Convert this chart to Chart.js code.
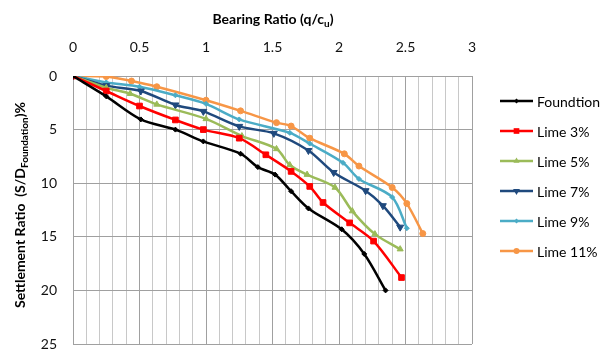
<!DOCTYPE html>
<html>
<head>
<meta charset="utf-8">
<script src="https://cdn.jsdelivr.net/npm/chart.js@4.4.1/dist/chart.umd.min.js"></script>
<style>
  body { margin: 0; background: #fff; }
  canvas { display: block; }
</style>
</head>
<body>
<canvas id="settle-chart" width="605" height="349"></canvas>
<script>
// values
const seriesNames = ['Foundtion', 'Lime 3%', 'Lime 5%', 'Lime 7%', 'Lime 9%', 'Lime 11%'];

const foundX = [0, 0.25, 0.51, 0.77, 0.98, 1.26, 1.39, 1.52, 1.64, 1.77, 2.02, 2.19, 2.35];
const foundY = [0, 1.9, 4.05, 5.0, 6.1, 7.25, 8.5, 9.2, 10.75, 12.35, 14.3, 16.6, 20.0];

const lime3X = [0, 0.25, 0.5, 0.77, 0.98, 1.25, 1.45, 1.64, 1.78, 1.88, 2.08, 2.26, 2.47];
const lime3Y = [0, 1.4, 2.8, 4.1, 5.0, 5.8, 7.35, 8.9, 10.3, 11.8, 13.7, 15.4, 18.8];

const lime5X = [0, 0.25, 0.43, 0.63, 1.0, 1.27, 1.53, 1.63, 1.76, 1.97, 2.1, 2.27, 2.46];
const lime5Y = [0, 1.1, 1.65, 2.65, 4.0, 5.6, 6.8, 8.3, 9.2, 10.4, 12.6, 14.75, 16.15];

const lime7X = [0, 0.25, 0.51, 0.77, 0.98, 1.25, 1.51, 1.77, 1.96, 2.2, 2.33, 2.46];
const lime7Y = [0, 0.9, 1.4, 2.7, 3.3, 4.7, 5.35, 6.95, 9.0, 10.7, 12.1, 14.1];

const lime9X = [0, 0.25, 0.5, 0.77, 1.0, 1.25, 1.63, 1.78, 2.03, 2.15, 2.4, 2.51];
const lime9Y = [0, 0.6, 1.0, 1.8, 2.6, 4.05, 5.3, 6.3, 8.1, 9.6, 11.3, 14.2];

const lime11X = [0, 0.25, 0.44, 0.63, 1.0, 1.26, 1.53, 1.64, 1.78, 2.04, 2.15, 2.4, 2.51, 2.63];
const lime11Y = [0, 0.05, 0.47, 1.0, 2.26, 3.25, 4.35, 4.67, 5.8, 7.26, 8.4, 10.4, 11.9, 14.7];

const xTicks = [0, 0.5, 1, 1.5, 2, 2.5, 3];
const yTicks = [0, 5, 10, 15, 20, 25];

const FONT = 'Lato, "Open Sans", sans-serif';

function pts(xs, ys) {
    return xs.map((x, i) => ({ x: x, y: ys[i] }));
}

const styles = [
    { color: '#000000', point: 'rectRot', r: 2.5, rot: 0 },
    { color: '#ff0000', point: 'rect', r: 4, rot: 0 },
    { color: '#9bbb59', point: 'triangle', r: 3.5, rot: 0 },
    { color: '#1f497d', point: 'triangle', r: 4, rot: 180 },
    { color: '#4bacc6', point: 'rectRot', r: 2.5, rot: 0 },
    { color: '#f79646', point: 'circle', r: 3, rot: 0 },
];

const seriesData = [
    pts(foundX, foundY), pts(lime3X, lime3Y), pts(lime5X, lime5Y),
    pts(lime7X, lime7Y), pts(lime9X, lime9Y), pts(lime11X, lime11Y)
];

function isMajor(v) {
    return xTicks.some(t => Math.abs(t - v) < 1e-6);
}

// axis titles (with subscripts) and the line+marker legend
const decorations = {
    id: 'decorations',
    afterDraw(chart) {
        const ctx = chart.ctx;
        ctx.save();
        ctx.fillStyle = '#000';
        ctx.textBaseline = 'alphabetic';

        // x title
        const big = 'bold 14px ' + FONT, small = 'bold 10px ' + FONT;
        ctx.font = big;
        const a = 'Bearing Ratio (q/c', c = ')';
        const wa = ctx.measureText(a).width, wc = ctx.measureText(c).width;
        ctx.font = small;
        const wb = ctx.measureText('u').width;
        let x = 273 - (wa + wb + wc) / 2;
        ctx.font = big; ctx.fillText(a, x, 24); x += wa;
        ctx.font = small; ctx.fillText('u', x, 27); x += wb;
        ctx.font = big; ctx.fillText(c, x, 24);

        // y title
        ctx.translate(25, 205);
        ctx.rotate(-Math.PI / 2);
        const ya = 'Settlement Ratio  (S/D', yb = 'Foundation', yc = ')%';
        ctx.font = big;
        const ywa = ctx.measureText(ya).width, ywc = ctx.measureText(yc).width;
        ctx.font = small;
        const ywb = ctx.measureText(yb).width;
        let p = -(ywa + ywb + ywc) / 2;
        ctx.font = big; ctx.fillText(ya, p, 0); p += ywa;
        ctx.font = small; ctx.fillText(yb, p, 3); p += ywb;
        ctx.font = big; ctx.fillText(yc, p, 0);
        ctx.restore();

        // legend
        ctx.save();
        ctx.font = '14px ' + FONT;
        ctx.textBaseline = 'middle';
        seriesNames.forEach((name, i) => {
            const y = 101 + i * 30;
            const s = styles[i];
            ctx.strokeStyle = s.color;
            ctx.lineWidth = 2.5;
            ctx.beginPath();
            ctx.moveTo(500, y);
            ctx.lineTo(533, y);
            ctx.stroke();
            ctx.fillStyle = s.color;
            ctx.lineWidth = 1;
            Chart.helpers.drawPoint(ctx, { pointStyle: s.point, radius: s.r, rotation: s.rot }, 516.5, y);
            ctx.fillStyle = '#000';
            ctx.fillText(name, 537, y + 1);
        });
        ctx.restore();
    }
};

const ctx = document.getElementById('settle-chart').getContext('2d');
new Chart(ctx, {
    type: 'line',
    data: {
        datasets: seriesNames.map((name, i) => ({
            label: name,
            data: seriesData[i],
            borderColor: styles[i].color,
            backgroundColor: styles[i].color,
            pointStyle: styles[i].point,
            pointRadius: styles[i].r,
            pointRotation: styles[i].rot,
            pointBorderWidth: 1,
            borderWidth: 2.5,
            tension: 0.3,
            fill: false,
        }))
    },
    options: {
        responsive: false,
        animation: false,
        layout: { padding: { top: 0, left: 0, right: 133, bottom: 3 } },
        plugins: {
            legend: { display: false },
            tooltip: { enabled: false },
        },
        scales: {
            x: {
                type: 'linear',
                position: 'top',
                min: 0,
                max: 3,
                afterFit(s) { s.height = 76; },
                grid: {
                    drawTicks: false,
                    color: c => isMajor(c.tick.value) ? '#a0a0a0' : '#c8c8c8',
                },
                border: { color: '#a0a0a0' },
                ticks: {
                    stepSize: 0.1,
                    maxTicksLimit: 40,
                    autoSkip: false,
                    maxRotation: 0,
                    padding: 20,
                    color: '#111',
                    font: { family: FONT, size: 14 },
                    callback: v => isMajor(v) ? String(Math.round(v * 10) / 10) : '',
                },
            },
            y: {
                type: 'linear',
                reverse: true,
                min: 0,
                max: 25,
                afterFit(s) { s.width = 73; s.paddingBottom = 0; },
                grid: { drawTicks: false, color: '#a0a0a0' },
                border: { color: '#a0a0a0' },
                ticks: {
                    stepSize: 5,
                    padding: 16,
                    color: '#111',
                    font: { family: FONT, size: 14 },
                    callback: v => yTicks.includes(v) ? String(v) : '',
                },
            },
        },
    },
    plugins: [decorations],
});
</script>
</body>
</html>
